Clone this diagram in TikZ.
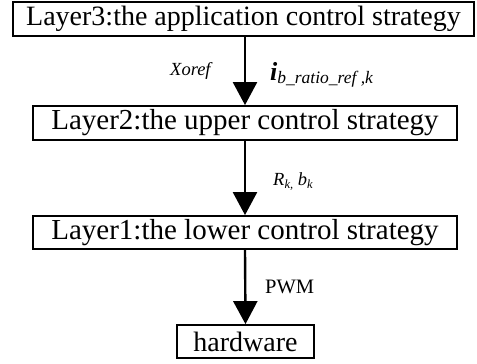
\documentclass[tikz,border=0pt]{standalone}
\usepackage{fontspec}
\setmainfont{Liberation Serif}
\usetikzlibrary{arrows.meta}
\begin{document}
\begin{tikzpicture}[x=1pt,y=-1pt]
  \tikzstyle{layer}=[rectangle, draw=black, line width=1.8pt, inner sep=0pt, text centered, font=\fontsize{29}{30}\selectfont]
  \tikzstyle{lbl}=[inner sep=0pt, anchor=base west, font=\fontsize{18.5}{20}\selectfont\itshape]
  \tikzstyle{flow}=[-{Triangle[length=23pt,width=24pt]}, line width=2.4pt]
  \useasboundingbox (0,0) rectangle (477,364);
  % the four layers
  \node[layer, minimum width=461pt, minimum height=34pt, font=\fontsize{28}{30}\selectfont] (L3) at (243.5,19) {Layer3:the application control strategy};
  \node[layer, minimum width=424pt, minimum height=34pt] (L2) at (245,123) {Layer2:the upper control strategy};
  \node[layer, minimum width=424pt, minimum height=33pt] (L1) at (245,232.5) {Layer1:the lower control strategy};
  \node[layer, minimum width=137pt, minimum height=33pt, font=\fontsize{28}{30}\selectfont] (HW) at (245.5,341.5) {hardware};
  \draw[flow] (L2.north |- L3.south) -- (L2.north);
  \draw[flow] (L2.south) -- (L1.north);
  \draw[flow] (L1.south) -- (HW.north);
  % signal labels
  \node[lbl] (xo) at (170,75) {Xoref};
  \node[lbl] (ib) at (270,80) {{\fontsize{26}{26}\selectfont\bfseries i}\raisebox{-3pt}{\fontsize{17.5}{18}\selectfont b\_ratio\_ref ,k}};
  \node[lbl] (rb) at (273,185) {R\raisebox{-3pt}{\fontsize{12.5}{13}\selectfont k,} b\raisebox{-3pt}{\fontsize{12.5}{13}\selectfont k}};
  \node[lbl, font=\fontsize{20.5}{21}\selectfont] (pwm) at (265,293) {PWM};
\end{tikzpicture}
\end{document}
